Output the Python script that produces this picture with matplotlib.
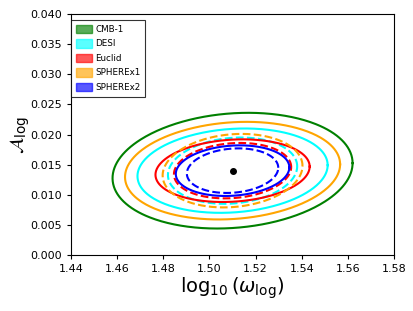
import numpy as np
import matplotlib
matplotlib.use('Agg')
import matplotlib.pyplot as plt
import matplotlib.patches as mpatches

# fiducial point
x0 = 1.51
y0 = 0.014

# surveys and contour sizes (half width, half height)
surveys = ['CMB-1', 'DESI', 'Euclid', 'SPHEREx1', 'SPHEREx2']
colors = ['green', 'cyan', 'red', 'orange', 'blue']
sx_solid = [0.0520, 0.0412, 0.0334, 0.0466, 0.0246]
sy_solid = [0.0096, 0.0070, 0.0052, 0.0081, 0.0042]
sx_dash = [None, 0.0280, 0.0254, 0.0303, 0.0198]
sy_dash = [None, 0.0055, 0.0046, 0.0061, 0.0037]
rho = 0.13

t = np.linspace(0, 2 * np.pi, 400)

def ellipse(sx, sy):
    x = x0 + sx * np.cos(t)
    y = y0 + sy * (rho * np.cos(t) + np.sqrt(1 - rho**2) * np.sin(t))
    return x, y

fig = plt.figure(figsize=(4.14, 3.11), dpi=100)
ax = fig.add_axes([0.1715, 0.18, 0.7805, 0.775])

for i in range(len(surveys)):
    x, y = ellipse(sx_solid[i], sy_solid[i])
    ax.plot(x, y, color=colors[i], lw=1.5)
    if sx_dash[i] is not None:
        x, y = ellipse(sx_dash[i], sy_dash[i])
        ax.plot(x, y, color=colors[i], lw=1.5, ls='--')

ax.plot(x0, y0, 'o', color='black', ms=4)

ax.set_xlim(1.44, 1.58)
ax.set_ylim(0, 0.04)
ax.set_xticks(np.arange(1.44, 1.581, 0.02))
ax.set_yticks(np.arange(0, 0.0401, 0.005))
ax.xaxis.set_major_formatter(matplotlib.ticker.FormatStrFormatter('%.2f'))
ax.yaxis.set_major_formatter(matplotlib.ticker.FormatStrFormatter('%.3f'))
ax.tick_params(labelsize=8, length=3)
ax.set_xlabel(r'$\log_{10}(\omega_{\rm log})$', fontsize=14, labelpad=1)
ax.set_ylabel(r'$\mathcal{A}_{\rm log}$', fontsize=14)
ax.yaxis.set_label_coords(-0.12, 0.5)

handles = [mpatches.Patch(color=c, alpha=0.65, label=s) for c, s in zip(colors, surveys)]
leg = ax.legend(handles=handles, loc='upper left', bbox_to_anchor=(0.0, 0.975),
                borderaxespad=0, fontsize=6.3, frameon=True,
                fancybox=False, edgecolor='black', handlelength=1.9,
                handleheight=1.1, handletextpad=0.3, borderpad=0.55,
                labelspacing=0.6)
leg.get_frame().set_linewidth(0.8)

plt.savefig('out.png', dpi=100)
